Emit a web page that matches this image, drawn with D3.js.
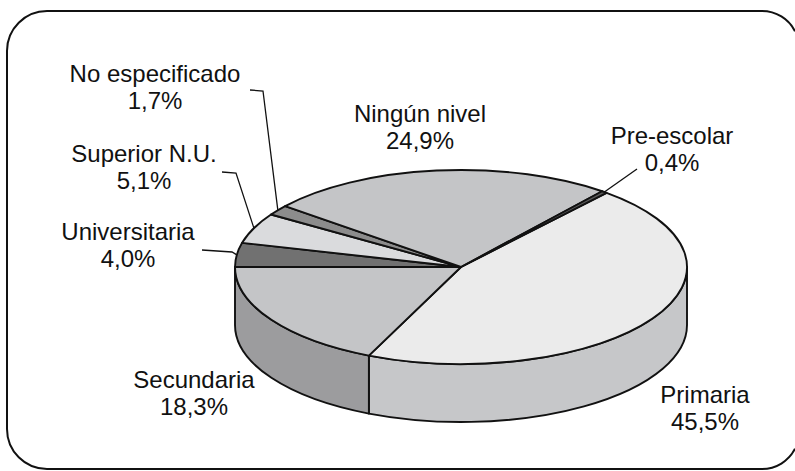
<!DOCTYPE html>
<html>
<head>
<meta charset="utf-8">
<script src="https://cdn.jsdelivr.net/npm/d3@7"></script>
<style>
  body { margin: 0; background: #fff; overflow: hidden; }
  text { font-family: "Liberation Sans", Arial, sans-serif; font-size: 24px; fill: #111; }
</style>
</head>
<body>
<div id="chart"></div>
<script>
/* DATA */
const categories = ["Primaria", "Secundaria", "Universitaria", "Superior N.U.", "No especificado", "Ningún nivel", "Pre-escolar"];
const values = [45.5, 18.3, 4.0, 5.1, 1.7, 24.9, 0.4];
const valueLabels = ["45,5%", "18,3%", "4,0%", "5,1%", "1,7%", "24,9%", "0,4%"];

/* CONSTANTS */
const width = 795, height = 471;
const cx = 461, cy = 267, rx = 226, ry = 97, depth = 58;

const topColors = ["#ebebeb", "#c4c5c7", "#717171", "#dadbdd", "#8c8c8c", "#c4c5c7", "#5a5a5a"];
const sideColors = ["#c6c7c9", "#9c9c9e", "#555555", "#b0b0b0", "#6c6c6c", "#a0a0a0", "#444444"];

// label placement: center x, first baseline, and an elbow for leader lines
const labelPos = {
  "Primaria": { x: 705, y: 403 },
  "Secundaria": { x: 194, y: 388 },
  "Universitaria": { x: 128, y: 240, leader: [[202, 250], [232, 252]] },
  "Superior N.U.": { x: 144, y: 162, leader: [[222, 172], [236, 173]] },
  "No especificado": { x: 155, y: 82, leader: [[250, 90], [263, 91]] },
  "Ningún nivel": { x: 420, y: 122 },
  "Pre-escolar": { x: 672, y: 144, leader: [[637, 169]] }
};

const svg = d3.select("#chart").append("svg")
  .attr("width", width)
  .attr("height", height)
  .style("display", "block");

// frame: rounded box whose right side runs just past the window edge
const fL = 7, fT = 11, fB = 469, rL = 40, rR = 37, fR = 799;
const ccx = fR - rR;                                   // right corner centre x
const cut = Math.sqrt(rR * rR - (width - ccx) ** 2);   // where arcs meet x = width
svg.append("path")
  .attr("d",
    `M${width},${fT + rR - cut}` +
    `A${rR},${rR} 0 0 0 ${ccx},${fT}` +
    `L${fL + rL},${fT}` +
    `A${rL},${rL} 0 0 0 ${fL},${fT + rL}` +
    `L${fL},${fB - rL}` +
    `A${rL},${rL} 0 0 0 ${fL + rL},${fB}` +
    `L${ccx},${fB}` +
    `A${rR},${rR} 0 0 0 ${width},${fB - rR + cut}`)
  .attr("fill", "none")
  .attr("stroke", "#111")
  .attr("stroke-width", 2);

const data = categories.map((c, i) => ({ name: c, value: values[i], label: valueLabels[i], i }));

const total = d3.sum(values);
// rotate so that Secundaria ends exactly at 9 o'clock
const startAngle = 1.5 * Math.PI - 2 * Math.PI * (values[0] + values[1]) / total;

const pie = d3.pie()
  .value(d => d.value)
  .sort(null)
  .startAngle(startAngle)
  .endAngle(startAngle + 2 * Math.PI);

const arcs = pie(data);

const pt = (a, dy = 0) => [cx + rx * Math.sin(a), cy - ry * Math.cos(a) + dy];

function topPath(d) {
  const p0 = pt(d.startAngle), p1 = pt(d.endAngle);
  const large = d.endAngle - d.startAngle > Math.PI ? 1 : 0;
  return `M${cx},${cy}L${p0[0]},${p0[1]}A${rx},${ry} 0 ${large} 1 ${p1[0]},${p1[1]}Z`;
}

function sidePath(d) {
  // visible front side runs from PI/2 to 3PI/2
  const a0 = Math.max(d.startAngle, Math.PI / 2);
  const a1 = Math.min(d.endAngle, 1.5 * Math.PI);
  if (a1 <= a0) return null;
  const p0 = pt(a0), p1 = pt(a1), q1 = pt(a1, depth), q0 = pt(a0, depth);
  return `M${p0[0]},${p0[1]}A${rx},${ry} 0 0 1 ${p1[0]},${p1[1]}` +
    `L${q1[0]},${q1[1]}A${rx},${ry} 0 0 0 ${q0[0]},${q0[1]}Z`;
}

// sides
svg.append("g")
  .selectAll("path")
  .data(arcs.filter(d => sidePath(d)))
  .join("path")
  .attr("d", sidePath)
  .attr("fill", d => sideColors[d.data.i])
  .attr("stroke", "#111")
  .attr("stroke-width", 1.9)
  .attr("stroke-linejoin", "round");

// tops
svg.append("g")
  .selectAll("path")
  .data(arcs)
  .join("path")
  .attr("d", topPath)
  .attr("fill", d => topColors[d.data.i])
  .attr("stroke", "#111")
  .attr("stroke-width", 1.9)
  .attr("stroke-linejoin", "round");

// leader lines
const line = d3.line();
svg.append("g")
  .selectAll("path")
  .data(arcs.filter(d => labelPos[d.data.name].leader))
  .join("path")
  .attr("d", d => {
    const mid = (d.startAngle + d.endAngle) / 2;
    return line(labelPos[d.data.name].leader.concat([pt(mid)]));
  })
  .attr("fill", "none")
  .attr("stroke", "#111")
  .attr("stroke-width", 1.3);

// labels
const labels = svg.append("g")
  .selectAll("text")
  .data(arcs)
  .join("text")
  .attr("text-anchor", "middle")
  .attr("x", d => labelPos[d.data.name].x)
  .attr("y", d => labelPos[d.data.name].y);

labels.append("tspan")
  .attr("x", d => labelPos[d.data.name].x)
  .text(d => d.data.name);

labels.append("tspan")
  .attr("x", d => labelPos[d.data.name].x)
  .attr("dy", 27)
  .text(d => d.data.label);
</script>
</body>
</html>
